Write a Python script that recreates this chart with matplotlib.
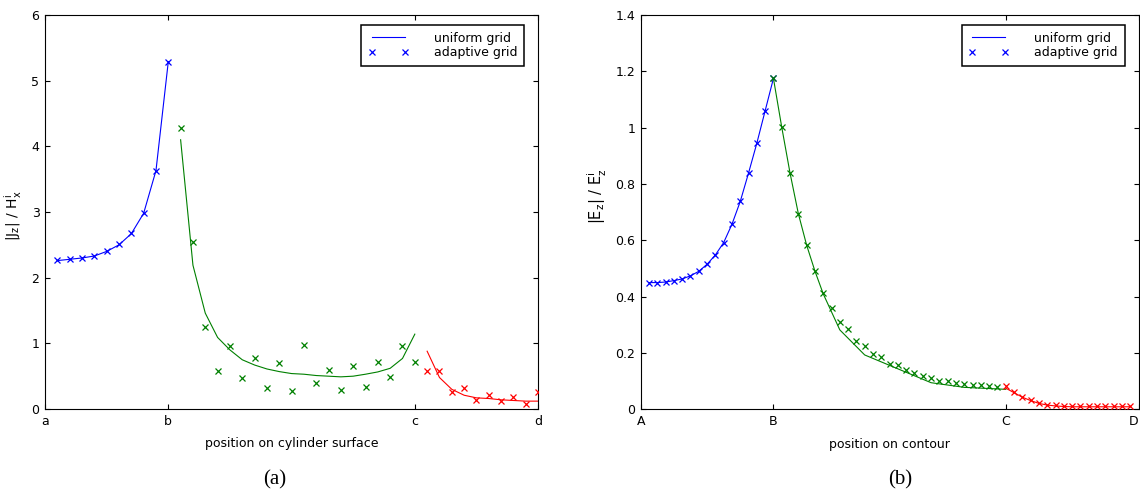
import numpy as np
import matplotlib
matplotlib.use("Agg")
import matplotlib.pyplot as plt
from matplotlib.lines import Line2D
from matplotlib.ticker import FormatStrFormatter

# ---- panel (a): current on cylinder surface, indexed by grid point ----
a_ticks = [0, 10, 30, 40]
a_tick_labels = ["a", "b", "c", "d"]

a_blue_x = np.arange(1, 11)
a_blue_line = [2.26, 2.28, 2.30, 2.33, 2.40, 2.50, 2.67, 2.98, 3.63, 5.29]
a_blue_pts = [2.27, 2.28, 2.30, 2.33, 2.41, 2.51, 2.68, 2.98, 3.63, 5.29]

a_green_x = np.arange(11, 31)
a_green_line = [4.10, 2.19, 1.46, 1.09, 0.90, 0.75, 0.67, 0.61, 0.57, 0.54,
                0.53, 0.51, 0.50, 0.49, 0.50, 0.53, 0.565, 0.62, 0.77, 1.14]
a_green_pts = [4.28, 2.55, 1.25, 0.58, 0.955, 0.477, 0.77, 0.315, 0.695, 0.274,
               0.975, 0.39, 0.60, 0.29, 0.655, 0.33, 0.71, 0.49, 0.96, 0.71]

a_red_x = np.arange(31, 41)
a_red_line = [0.88, 0.48, 0.30, 0.21, 0.17, 0.16, 0.14, 0.13, 0.12, 0.12]
a_red_pts = [0.58, 0.58, 0.254, 0.315, 0.137, 0.213, 0.122, 0.183, 0.081, 0.254]

# ---- panel (b): field on contour ----
b_ticks = [0, 16, 44, 60]
b_tick_labels = ["A", "B", "C", "D"]

b_blue_x = np.arange(1, 17)
b_blue_pts = [0.450, 0.450, 0.452, 0.457, 0.463, 0.474, 0.490, 0.515,
              0.548, 0.592, 0.657, 0.738, 0.839, 0.945, 1.060, 1.175]
b_blue_line = b_blue_pts

b_green_line_x = [16, 17, 18, 19, 20, 21, 22, 24, 27, 35, 39, 44]
b_green_line = [1.175, 1.002, 0.839, 0.695, 0.583, 0.491, 0.41, 0.282,
                0.193, 0.0945, 0.078, 0.071]
b_green_x = np.arange(16, 44)
b_green_pts = [1.175, 1.002, 0.839, 0.695, 0.583, 0.491, 0.412, 0.358,
               0.310, 0.284, 0.242, 0.225, 0.198, 0.185, 0.160, 0.157,
               0.140, 0.129, 0.120, 0.112, 0.102, 0.099, 0.092, 0.089,
               0.086, 0.085, 0.082, 0.079]

b_red_x = np.arange(44, 60)
b_red_line = [0.075, 0.059, 0.043, 0.031, 0.021, 0.015, 0.012, 0.010,
              0.009, 0.009, 0.009, 0.009, 0.009, 0.009, 0.009, 0.009]
b_red_pts = [0.083, 0.062, 0.045, 0.034, 0.024, 0.017, 0.014, 0.011,
             0.011, 0.010, 0.010, 0.010, 0.010, 0.010, 0.010, 0.010]

BLUE = (0, 0, 1)
GREEN = (0, 0.5, 0)
RED = (1, 0, 0)

plt.rcParams["font.family"] = "DejaVu Sans"
plt.rcParams["font.size"] = 9
plt.rcParams["mathtext.default"] = "regular"

fig = plt.figure(figsize=(11.4, 4.95), dpi=100)
axA = fig.add_axes([0.0395, 0.1737, 0.4325, 0.796])
axB = fig.add_axes([0.562, 0.1731, 0.4367, 0.7965])


def drawPanel(ax, segments, ticks, tickLabels, ylim, yticks):
    for color, lx, ly, px, py in segments:
        ax.plot(lx, ly, color=color, lw=0.8, zorder=2)
        ax.plot(px, py, ls="none", marker="x", color=color, ms=3.8, mew=0.9, zorder=3)
    ax.set_xlim(ticks[0], ticks[-1])
    ax.set_ylim(*ylim)
    ax.set_xticks(ticks)
    ax.set_xticklabels(tickLabels)
    ax.set_yticks(yticks)
    ax.yaxis.set_major_formatter(FormatStrFormatter("%g"))
    ax.tick_params(direction="in", top=True, right=True, length=3.6, width=0.8, pad=4)
    for s in ax.spines.values():
        s.set_linewidth(0.8)

    handles = [Line2D([], [], color=BLUE, lw=0.8),
               Line2D([], [], ls="none", marker="x", color=BLUE, ms=3.8, mew=0.9)]
    leg = ax.legend(handles, ["uniform grid", "adaptive grid"], loc="upper right",
                    bbox_to_anchor=(0.972, 0.975), borderaxespad=0, numpoints=2,
                    handlelength=3.25, handletextpad=2.0, labelspacing=0.1,
                    borderpad=0.55, fancybox=False, framealpha=1, fontsize=9)
    leg.get_frame().set_edgecolor("black")
    leg.get_frame().set_linewidth(1.1)


drawPanel(axA,
          [(BLUE, a_blue_x, a_blue_line, a_blue_x, a_blue_pts),
           (GREEN, a_green_x, a_green_line, a_green_x, a_green_pts),
           (RED, a_red_x, a_red_line, a_red_x, a_red_pts)],
          a_ticks, a_tick_labels, (0, 6), np.arange(0, 7, 1))

drawPanel(axB,
          [(BLUE, b_blue_x, b_blue_line, b_blue_x, b_blue_pts),
           (GREEN, b_green_line_x, b_green_line, b_green_x, b_green_pts),
           (RED, b_red_x, b_red_line, b_red_x, b_red_pts)],
          b_ticks, b_tick_labels, (0, 1.4), np.arange(0, 1.41, 0.2))

# last tick label sits against the figure edge
axB.get_xticklabels()[-1].set_ha("right")

axA.set_ylabel(r"$|J_z|\ /\ H^i_x$", fontsize=10)
axA.yaxis.set_label_coords(-0.043, 0.49)
axA.set_xlabel("position on cylinder surface")
axA.xaxis.set_label_coords(0.5, -0.072)

axB.set_ylabel(r"$|E_z|\ /\ E^i_z$", fontsize=10.5)
axB.yaxis.set_label_coords(-0.064, 0.54)
axB.set_xlabel("position on contour")
axB.xaxis.set_label_coords(0.5, -0.072)

fig.text(275 / 1140, 1 - 480 / 495, "(a)", family="Liberation Serif", fontsize=15,
         ha="center", va="center")
fig.text(900 / 1140, 1 - 480 / 495, "(b)", family="Liberation Serif", fontsize=15,
         ha="center", va="center")

fig.savefig("out.png", dpi=100)
